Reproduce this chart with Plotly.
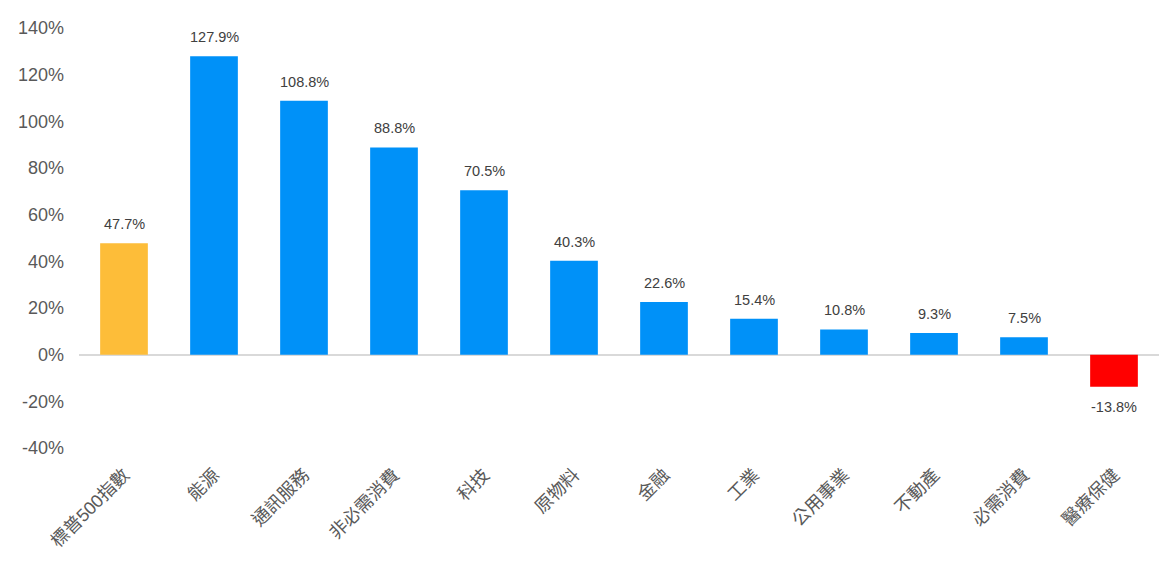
import plotly.graph_objects as go

categories = ["標普500指數", "能源", "通訊服務", "非必需消費", "科技", "原物料",
              "金融", "工業", "公用事業", "不動產", "必需消費", "醫療保健"]
returns = [47.7, 127.9, 108.8, 88.8, 70.5, 40.3, 22.6, 15.4, 10.8, 9.3, 7.5, -13.8]
y_ticks = [-40, -20, 0, 20, 40, 60, 80, 100, 120, 140]

colors = []
for i, v in enumerate(returns):
    if i == 0:
        colors.append("#FDBD39")
    elif v < 0:
        colors.append("#FF0000")
    else:
        colors.append("#0091F8")

FONT = "Liberation Sans, Noto Sans CJK TC"

fig = go.Figure()
fig.add_trace(go.Bar(
    x=categories,
    y=returns,
    marker=dict(color=colors, line=dict(width=0)),
    cliponaxis=False,
))

# data labels, a bit away from the bar ends
for c, v in zip(categories, returns):
    fig.add_annotation(
        x=c, y=v, text=f"{v:.1f}%", showarrow=False,
        yshift=19 if v >= 0 else -20,
        font=dict(size=14.5, color="#404040", family=FONT),
    )

# page body has an 8px margin, so the figure is a bit smaller than the window
fig.update_layout(
    width=1163, height=569,
    margin=dict(l=71, r=12, t=20, b=129, autoexpand=False),
    plot_bgcolor="white",
    paper_bgcolor="white",
    bargap=0.47,
    showlegend=False,
    font=dict(family=FONT, color="#595959"),
)
fig.update_xaxes(
    tickangle=-45,
    tickfont=dict(size=18, color="#595959", family=FONT),
    showgrid=False, showline=False, ticks="",
    ticklabelstandoff=12,
    automargin=False,
)
fig.update_yaxes(
    range=[-40, 140],
    tickmode="array",
    tickvals=y_ticks,
    ticktext=[f"{t}%" for t in y_ticks],
    tickfont=dict(size=18, color="#595959", family=FONT),
    showgrid=False, showline=False,
    zeroline=True, zerolinecolor="#D9D9D9", zerolinewidth=2,
    ticklabelstandoff=14,
    automargin=False,
)

fig.write_html("out.html")
